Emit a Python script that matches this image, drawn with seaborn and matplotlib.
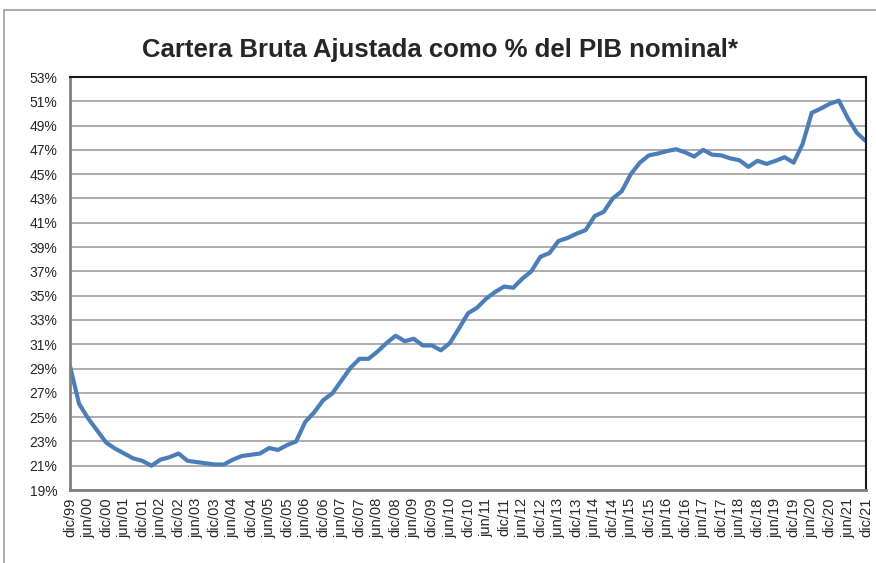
import matplotlib
matplotlib.use("Agg")
import matplotlib.pyplot as plt
from matplotlib.lines import Line2D
import numpy as np
import pandas as pd
import seaborn as sns

# Cartera bruta ajustada como % del PIB nominal, trimestral dic/99 - dic/21
cartera_pib = [
    29.2, 26.1, 24.9, 23.9, 22.9, 22.4, 22.0, 21.6, 21.4, 21.0,
    21.5, 21.7, 22.0, 21.4, 21.3, 21.2, 21.1, 21.1, 21.5, 21.8,
    21.9, 22.0, 22.45, 22.3, 22.7, 23.0, 24.6, 25.4, 26.4, 26.95,
    28.0, 29.05, 29.8, 29.8, 30.4, 31.1, 31.7, 31.25, 31.45, 30.9,
    30.9, 30.5, 31.1, 32.3, 33.55, 34.0, 34.75, 35.3, 35.75, 35.65,
    36.4, 37.0, 38.2, 38.5, 39.5, 39.75, 40.1, 40.4, 41.55, 41.9,
    43.0, 43.6, 45.0, 45.95, 46.55, 46.7, 46.9, 47.05, 46.8, 46.45,
    47.0, 46.6, 46.55, 46.3, 46.15, 45.6, 46.1, 45.85, 46.1, 46.4,
    45.95, 47.5, 50.05, 50.4, 50.8, 51.05, 49.6, 48.4, 47.7,
]

# Etiquetas semestrales del eje de categorías
etiquetas = [
    "dic/99", "jun/00", "dic/00", "jun/01", "dic/01", "jun/02", "dic/02",
    "jun/03", "dic/03", "jun/04", "dic/04", "jun/05", "dic/05", "jun/06",
    "dic/06", "jun/07", "dic/07", "jun/08", "dic/08", "jun/09", "dic/09",
    "jun/10", "dic/10", "jun/11", "dic/11", "jun/12", "dic/12", "jun/13",
    "dic/13", "jun/14", "dic/14", "jun/15", "dic/15", "jun/16", "dic/16",
    "jun/17", "dic/17", "jun/18", "dic/18", "jun/19", "dic/19", "jun/20",
    "dic/20", "jun/21", "dic/21",
]

marcas_y = list(range(19, 54, 2))

sns.set_style("white")
plt.rcParams["font.family"] = ["Liberation Sans", "DejaVu Sans"]

df = pd.DataFrame({"trimestre": np.arange(len(cartera_pib)), "valor": cartera_pib})

fig = plt.figure(figsize=(8.76, 5.63), dpi=100)
ax = fig.add_axes([70 / 876, 1 - 490 / 563, 796 / 876, 413 / 563])

ax.yaxis.grid(True, color="#a6a6a6", linewidth=1.3)
ax.set_axisbelow(True)

sns.lineplot(data=df, x="trimestre", y="valor", ax=ax, color="#4a7ebb",
             linewidth=3.0, solid_joinstyle="round", solid_capstyle="butt")

ax.set_xlim(0, len(cartera_pib) - 1)
ax.set_ylim(19, 53)
ax.set_yticks(marcas_y)
ax.set_yticklabels([f"{v}%" for v in marcas_y], fontsize=10)
ax.set_xticks(np.arange(0, len(cartera_pib), 2))
ax.set_xticklabels(etiquetas, rotation=90, fontsize=10.5)
ax.set_xlabel("")
ax.set_ylabel("")

ax.tick_params(axis="y", direction="out", length=5, width=1, color="#808080", pad=4)
ax.tick_params(axis="x", direction="inout", length=7, width=1, color="#808080", pad=2)

for lado in ["left", "bottom"]:
    ax.spines[lado].set_color("#808080")
    ax.spines[lado].set_linewidth(2.0)
for lado in ["top", "right"]:
    ax.spines[lado].set_color("#1a1a1a")
    ax.spines[lado].set_linewidth(1.5)

fig.text(440 / 876, 1 - 50 / 563, "Cartera Bruta Ajustada como % del PIB nominal*",
         ha="center", va="center", fontsize=18.5, fontweight="bold")

# Marco exterior del gráfico
fig.add_artist(Line2D([4 / 876, 1.0], [1 - 10 / 563, 1 - 10 / 563],
                      transform=fig.transFigure, color="#a0a0a0", linewidth=1.2))
fig.add_artist(Line2D([4 / 876, 4 / 876], [0.0, 1 - 10 / 563],
                      transform=fig.transFigure, color="#a0a0a0", linewidth=1.2))

fig.savefig("out.png", dpi=100)
